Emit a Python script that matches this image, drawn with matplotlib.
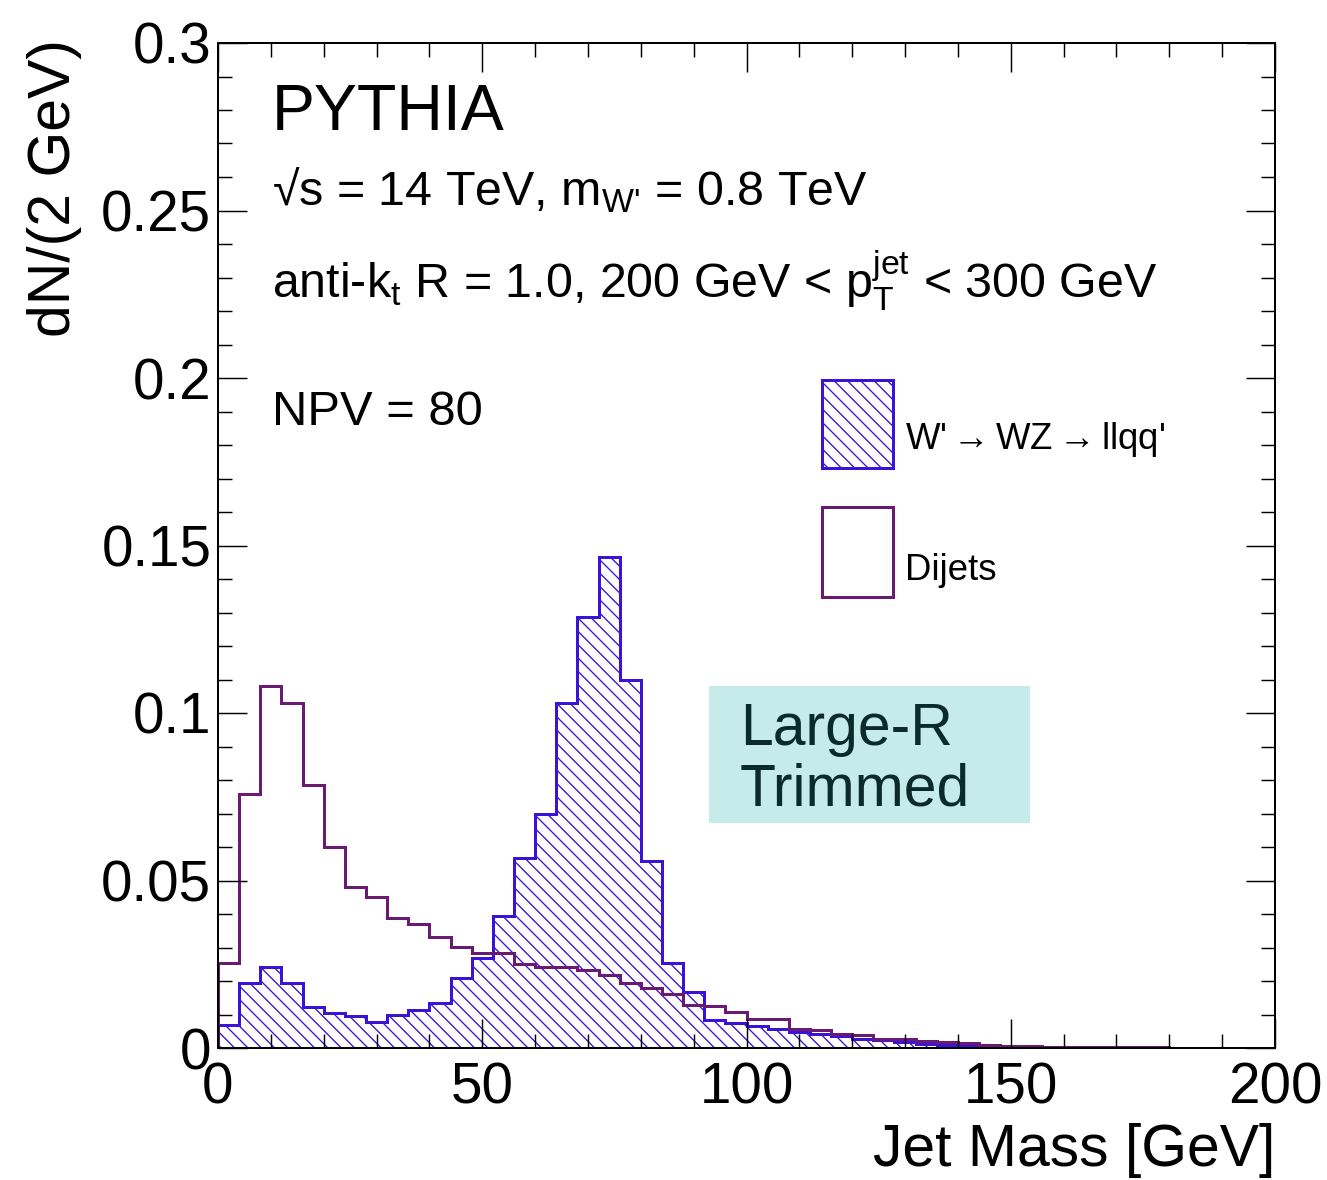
import numpy as np
import matplotlib.pyplot as plt
from matplotlib.patches import Rectangle
from matplotlib.ticker import MultipleLocator, FixedLocator, FixedFormatter

plt.rcParams['font.family'] = ['Liberation Sans', 'DejaVu Sans']
plt.rcParams['mathtext.fontset'] = 'custom'
plt.rcParams['mathtext.rm'] = 'Liberation Sans'
plt.rcParams['mathtext.it'] = 'Liberation Sans'
plt.rcParams['mathtext.bf'] = 'Liberation Sans:bold'
plt.rcParams['hatch.linewidth'] = 1.2

# 4 GeV bins from 0 to 200 GeV
bin_edges = np.linspace(0, 200, 51)

wprime = [0.0069, 0.0193, 0.0243, 0.0193, 0.0123, 0.0104, 0.0096, 0.0079, 0.0099, 0.0113,
          0.0133, 0.0208, 0.0270, 0.0393, 0.0566, 0.0699, 0.1029, 0.1288, 0.1467, 0.1099,
          0.0557, 0.0253, 0.0168, 0.0084, 0.0074, 0.0066, 0.0058, 0.0049, 0.0042, 0.0036,
          0.0028, 0.0023, 0.0018, 0.0013, 0.0010, 0.0008, 0.0006, 0.0004, 0.0003, 0.0002,
          0.0001, 0.0001, 0.0001, 0.0001, 0.0, 0.0, 0.0, 0.0, 0.0, 0.0]

dijets = [0.0255, 0.0757, 0.1080, 0.1029, 0.0785, 0.0601, 0.0482, 0.0450, 0.0387, 0.0369,
          0.0332, 0.0302, 0.0283, 0.0283, 0.0250, 0.0243, 0.0243, 0.0234, 0.0218, 0.0195,
          0.0179, 0.0162, 0.0129, 0.0125, 0.0107, 0.0088, 0.0087, 0.0056, 0.0055, 0.0041,
          0.0039, 0.0028, 0.0026, 0.0022, 0.0017, 0.0014, 0.0009, 0.0007, 0.0005, 0.0004,
          0.0003, 0.0003, 0.0002, 0.0002, 0.0002, 0.0001, 0.0001, 0.0001, 0.0001, 0.0001]

y_ticks = [0, 0.05, 0.1, 0.15, 0.2, 0.25, 0.3]
y_ticklabels = ['0', '0.05', '0.1', '0.15', '0.2', '0.25', '0.3']
x_ticks = [0, 50, 100, 150, 200]

blue = '#3a12d8'
purple = '#6a1a72'

W, H, DPI = 1327, 1180, 80
fig = plt.figure(figsize=(W / DPI, H / DPI), dpi=DPI)
ax = fig.add_axes([218 / W, 1 - 1048 / H, (1275 - 218) / W, (1048 - 43) / H])

# signal: hatched fill + outline, background: outline only
ax.stairs(wprime, bin_edges, fill=True, facecolor='none', edgecolor=blue,
          hatch='\\\\', linewidth=0)
ax.stairs(wprime, bin_edges, color=blue, linewidth=2.7)
ax.stairs(dijets, bin_edges, color=purple, linewidth=2.7)

ax.set_xlim(0, 200)
ax.set_ylim(0, 0.3)
ax.xaxis.set_major_locator(FixedLocator(x_ticks))
ax.xaxis.set_minor_locator(MultipleLocator(10))
ax.yaxis.set_major_locator(FixedLocator(y_ticks))
ax.yaxis.set_major_formatter(FixedFormatter(y_ticklabels))
ax.yaxis.set_minor_locator(MultipleLocator(0.01))
ax.tick_params(which='both', direction='in', top=True, right=True, width=1.3)
ax.tick_params(which='major', length=26, labelsize=51)
ax.tick_params(which='minor', length=13)
ax.tick_params(axis='y', pad=6)
ax.tick_params(axis='x', pad=12)
for s in ax.spines.values():
    s.set_linewidth(1.8)

fig.text(55 / W, 1 - 188 / H, 'dN/(2 GeV)', rotation=90, ha='center', va='center',
         fontsize=53)
fig.text(1275 / W, 1 - 1150 / H, 'Jet Mass [GeV]', ha='right', va='center', fontsize=53)

fig.text(272 / W, 1 - 130 / H, 'PYTHIA', fontsize=58, va='baseline')
fig.text(272 / W, 1 - 205 / H, "\u221as = 14 TeV, m$_{\\text{W'}}$ = 0.8 TeV",
         fontsize=43.5, va='baseline')
fig.text(272 / W, 1 - 298 / H,
         r"anti-k$_{\mathrm{t}}$ R = 1.0, 200 GeV < $\mathrm{p}_{\mathrm{T}}^{\mathrm{jet}}$ < 300 GeV",
         fontsize=43.5, va='baseline')
fig.text(272 / W, 1 - 425 / H, 'NPV = 80', fontsize=44, va='baseline')

# legend boxes
ax.add_patch(Rectangle((0.5714, 0.5771), 0.0672, 0.0876, transform=ax.transAxes,
                       facecolor='none', edgecolor=blue, hatch='\\\\', linewidth=2.7))
ax.add_patch(Rectangle((0.5714, 0.4488), 0.0672, 0.0896, transform=ax.transAxes,
                       facecolor='none', edgecolor=purple, linewidth=2.7))
ax.text(0.6499, 0.605, r"W'$\rightarrow$WZ$\rightarrow$llqq'", transform=ax.transAxes,
        fontsize=33, va='center')
ax.text(0.6499, 0.4756, 'Dijets', transform=ax.transAxes, fontsize=33, va='center')

# Large-R Trimmed label
ax.add_patch(Rectangle((0.4645, 0.2239), 0.3037, 0.1363, transform=ax.transAxes,
                       facecolor='#c6ebeb', edgecolor='none', zorder=0.5))
fig.text(740 / W, 1 - 745 / H, 'Large-R', fontsize=53, color='#0b2a2a', va='baseline')
fig.text(740 / W, 1 - 805 / H, 'Trimmed', fontsize=53, color='#0b2a2a', va='baseline')

fig.savefig('out.png', dpi=DPI)
